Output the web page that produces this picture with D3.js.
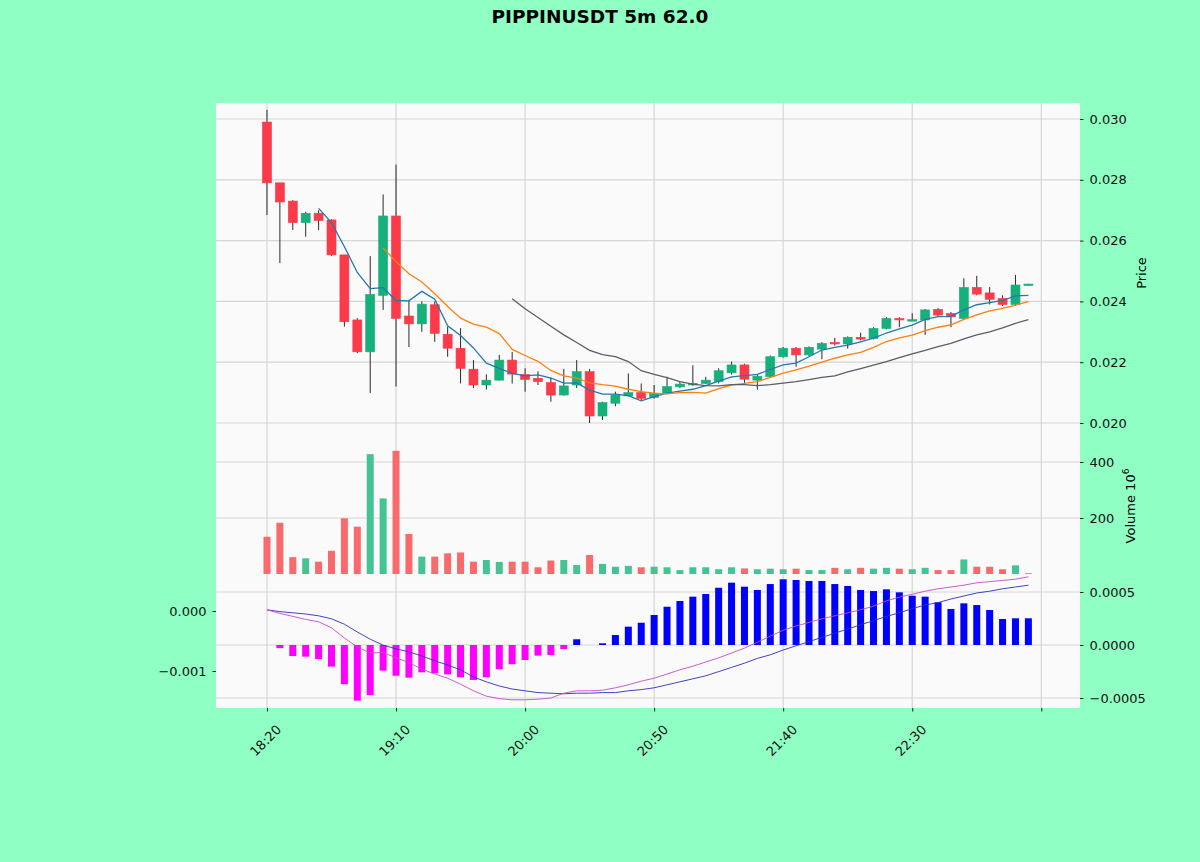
<!DOCTYPE html>
<html>
<head>
<meta charset="utf-8">
<script src="https://cdn.jsdelivr.net/npm/d3@7"></script>
<style>
  body { margin: 0; background: #8fffc4; }
  svg { display: block; font-family: "DejaVu Sans", sans-serif; }
</style>
</head>
<body>
<svg id="chart" width="1200" height="862"></svg>
<script>
// 5m candles, 18:20 onwards
const opens  = [0.02990,0.02790,0.02730,0.02659,0.02690,0.02668,0.02553,0.02339,0.02234,0.02420,
                0.02681,0.02352,0.02326,0.02389,0.02292,0.02246,0.02177,0.02125,0.02141,0.02207,
                0.02160,0.02147,0.02133,0.02092,0.02125,0.02169,0.02023,0.02065,0.02089,0.02100,
                0.02084,0.02098,0.02119,0.02126,0.02130,0.02136,0.02165,0.02191,0.02141,0.02152,
                0.02218,0.02246,0.02224,0.02243,0.02265,0.02260,0.02282,0.02278,0.02311,0.02344,
                0.02339,0.02339,0.02374,0.02360,0.02344,0.02446,0.02428,0.02410,0.02390,0.02455];
const highs  = [0.03030,0.02790,0.02733,0.02695,0.02700,0.02670,0.02553,0.02345,0.02549,0.02752,
                0.02850,0.02405,0.02400,0.02400,0.02317,0.02312,0.02207,0.02160,0.02224,0.02234,
                0.02180,0.02170,0.02150,0.02178,0.02207,0.02178,0.02070,0.02103,0.02163,0.02130,
                0.02125,0.02152,0.02135,0.02190,0.02152,0.02180,0.02202,0.02195,0.02160,0.02222,
                0.02250,0.02250,0.02252,0.02266,0.02280,0.02285,0.02297,0.02315,0.02348,0.02348,
                0.02361,0.02375,0.02378,0.02365,0.02476,0.02484,0.02447,0.02420,0.02487,0.02458];
const lows   = [0.02684,0.02526,0.02635,0.02613,0.02635,0.02550,0.02317,0.02230,0.02099,0.02372,
                0.02120,0.02250,0.02300,0.02267,0.02218,0.02130,0.02115,0.02110,0.02140,0.02130,
                0.02103,0.02125,0.02070,0.02090,0.02115,0.02000,0.02010,0.02055,0.02088,0.02075,
                0.02080,0.02095,0.02115,0.02122,0.02128,0.02130,0.02160,0.02130,0.02110,0.02150,
                0.02215,0.02185,0.02220,0.02210,0.02255,0.02245,0.02272,0.02275,0.02308,0.02315,
                0.02335,0.02290,0.02350,0.02315,0.02340,0.02420,0.02390,0.02385,0.02385,0.02454];
const closes = [0.02790,0.02727,0.02659,0.02690,0.02666,0.02553,0.02333,0.02234,0.02423,0.02681,
                0.02344,0.02326,0.02391,0.02295,0.02246,0.02180,0.02125,0.02141,0.02207,0.02161,
                0.02143,0.02136,0.02092,0.02122,0.02169,0.02023,0.02067,0.02092,0.02100,0.02081,
                0.02097,0.02120,0.02128,0.02130,0.02141,0.02172,0.02191,0.02144,0.02154,0.02218,
                0.02246,0.02224,0.02249,0.02262,0.02262,0.02282,0.02276,0.02311,0.02344,0.02339,
                0.02340,0.02372,0.02355,0.02349,0.02446,0.02424,0.02407,0.02390,0.02454,0.02457];

// volume in 10^6
const volumes = [133,183,60,56,44,83,199,169,428,270,440,143,62,62,74,77,44,50,43,44,
                 44,24,48,50,32,68,36,26,29,24,26,24,14,24,24,17,24,20,17,19,
                 17,19,14,14,22,17,22,19,22,19,17,22,14,14,52,26,26,17,31,3];

const ma5 = [null,null,null,null,0.02706,0.02659,0.02580,0.02495,0.02442,0.02445,
             0.02403,0.02402,0.02433,0.02407,0.02320,0.02288,0.02247,0.02197,0.02180,0.02163,
             0.02155,0.02158,0.02148,0.02131,0.02132,0.02108,0.02095,0.02095,0.02090,0.02073,
             0.02087,0.02098,0.02105,0.02111,0.02123,0.02138,0.02152,0.02156,0.02160,0.02176,
             0.02191,0.02197,0.02218,0.02240,0.02249,0.02256,0.02267,0.02279,0.02296,0.02310,
             0.02322,0.02341,0.02350,0.02351,0.02372,0.02389,0.02396,0.02403,0.02418,0.02420];
const ma10 = [null,null,null,null,null,null,null,null,null,0.02576,
              0.02531,0.02491,0.02464,0.02425,0.02383,0.02345,0.02325,0.02315,0.02294,0.02242,
              0.02222,0.02203,0.02173,0.02155,0.02148,0.02132,0.02126,0.02121,0.02111,0.02103,
              0.02098,0.02096,0.02100,0.02101,0.02098,0.02113,0.02125,0.02130,0.02136,0.02150,
              0.02164,0.02175,0.02187,0.02200,0.02213,0.02224,0.02232,0.02249,0.02268,0.02280,
              0.02289,0.02304,0.02315,0.02323,0.02341,0.02356,0.02369,0.02377,0.02388,0.02399];
const ma20 = [null,null,null,null,null,null,null,null,null,null,
              null,null,null,null,null,null,null,null,null,0.02409,
              0.02376,0.02347,0.02318,0.02290,0.02265,0.02239,0.02225,0.02218,0.02202,0.02172,
              0.02160,0.02149,0.02136,0.02128,0.02123,0.02122,0.02126,0.02126,0.02123,0.02126,
              0.02131,0.02136,0.02143,0.02150,0.02155,0.02168,0.02179,0.02190,0.02202,0.02215,
              0.02227,0.02239,0.02251,0.02262,0.02277,0.02290,0.02300,0.02313,0.02328,0.02340];

const macdLine = [0.00002,-0.00004,-0.00009,-0.00014,-0.00018,-0.00028,-0.00045,-0.00060,-0.00070,-0.00069,
                  -0.00078,-0.00086,-0.00097,-0.00105,-0.00112,-0.00122,-0.00133,-0.00142,-0.00146,-0.00148,
                  -0.00148,-0.00147,-0.00145,-0.00137,-0.00133,-0.00133,-0.00132,-0.00128,-0.00123,-0.00117,
                  -0.00112,-0.00105,-0.00098,-0.00092,-0.00085,-0.00078,-0.00070,-0.00062,-0.00052,-0.00042,
                  -0.00032,-0.00025,-0.00019,-0.00013,-0.00008,-0.00003,0.00002,0.00008,0.00017,0.00023,
                  0.00028,0.00033,0.00037,0.00040,0.00043,0.00047,0.00049,0.00051,0.00053,0.00057];
const signalLine = [0.00002,-0.00001,-0.00003,-0.00005,-0.00008,-0.00013,-0.00022,-0.00035,-0.00047,-0.00057,
                    -0.00063,-0.00068,-0.00075,-0.00083,-0.00090,-0.00098,-0.00110,-0.00118,-0.00125,-0.00130,
                    -0.00133,-0.00136,-0.00137,-0.00138,-0.00137,-0.00137,-0.00136,-0.00136,-0.00133,-0.00131,
                    -0.00128,-0.00123,-0.00118,-0.00113,-0.00108,-0.00101,-0.00094,-0.00087,-0.00079,-0.00073,
                    -0.00065,-0.00058,-0.00051,-0.00044,-0.00037,-0.00030,-0.00023,-0.00016,-0.00009,-0.00003,
                    0.00004,0.00010,0.00014,0.00020,0.00025,0.00030,0.00033,0.00037,0.00040,0.00043];
const histogram = [0,-0.000030,-0.000104,-0.000110,-0.000132,-0.000204,-0.000370,-0.000525,-0.000472,-0.000242,
                   -0.000290,-0.000308,-0.000258,-0.000267,-0.000277,-0.000305,-0.000330,-0.000305,-0.000229,-0.000182,
                   -0.000142,-0.000100,-0.000094,-0.000038,0.000054,0,0.000016,0.000094,0.000173,0.000210,
                   0.000283,0.000361,0.000415,0.000456,0.000481,0.000540,0.000588,0.000550,0.000519,0.000575,
                   0.000620,0.000613,0.000604,0.000604,0.000575,0.000557,0.000519,0.000509,0.000525,0.000497,
                   0.000465,0.000456,0.000403,0.000340,0.000393,0.000377,0.000330,0.000245,0.000252,0.000252];

const tickIdx = [0,10,20,30,40,50,60];
const tickLabels = ["18:20","19:10","20:00","20:50","21:40","22:30",""];
const priceTicks = [0.020,0.022,0.024,0.026,0.028,0.030];
const volTicks = [200,400];
const macdLeftTicks = [0,-0.001];
const macdRightTicks = [0.0005,0,-0.0005];

const svg = d3.select("#chart");
let axLeft = 216, axRight = 1080, axTop = 103, axBottom = 708;
let pBottom = 440, vBottom = 576;

let upCol = "#16b07c", downCol = "#fb3b49";
let upVol = "#45c393", downVol = "#f86a6c";
let gridCol = "#d6d6d6";

let x = d3.scaleLinear().domain([-3.95, 63.0]).range([axLeft, axRight]);
let yP = d3.scaleLinear().domain([0.020, 0.030]).range([423, 119]);
let yV = d3.scaleLinear().domain([0, 400]).range([574, 462]);
let yML = d3.scaleLinear().domain([0, -0.001]).range([611, 671]);
let yMR = d3.scaleLinear().domain([0, 0.0005]).range([645, 592]);

svg.append("text")
  .attr("x", 600).attr("y", 23)
  .attr("text-anchor", "middle")
  .attr("font-size", "18.5px")
  .attr("font-weight", "bold")
  .text("PIPPINUSDT 5m 62.0");

svg.append("rect")
  .attr("x", axLeft).attr("y", axTop)
  .attr("width", axRight - axLeft).attr("height", axBottom - axTop)
  .attr("fill", "#fafafa");

svg.append("clipPath").attr("id", "pc").append("rect")
  .attr("x", axLeft).attr("y", axTop).attr("width", axRight - axLeft).attr("height", pBottom - axTop);
svg.append("clipPath").attr("id", "mc").append("rect")
  .attr("x", axLeft).attr("y", vBottom).attr("width", axRight - axLeft).attr("height", axBottom - vBottom);

// grid
let grid = svg.append("g").attr("stroke", gridCol).attr("stroke-width", 1.2);
grid.selectAll(".vg").data(tickIdx).enter().append("line")
  .attr("x1", d => x(d)).attr("x2", d => x(d))
  .attr("y1", axTop).attr("y2", axBottom);
grid.selectAll(".pg").data(priceTicks).enter().append("line")
  .attr("x1", axLeft).attr("x2", axRight)
  .attr("y1", d => yP(d)).attr("y2", d => yP(d));
grid.selectAll(".vvg").data(volTicks).enter().append("line")
  .attr("x1", axLeft).attr("x2", axRight)
  .attr("y1", d => yV(d)).attr("y2", d => yV(d));
grid.selectAll(".mg").data(macdRightTicks).enter().append("line")
  .attr("x1", axLeft).attr("x2", axRight)
  .attr("y1", d => yMR(d)).attr("y2", d => yMR(d));

// volume
svg.append("g").selectAll("rect").data(volumes).enter().append("rect")
  .attr("x", (d, i) => x(i) - 3.5)
  .attr("width", 7)
  .attr("y", d => yV(d))
  .attr("height", d => yV(0) - yV(d))
  .attr("fill", (d, i) => closes[i] >= opens[i] ? upVol : downVol);

// candles
let candles = svg.append("g").attr("clip-path", "url(#pc)");
candles.selectAll("line").data(closes).enter().append("line")
  .attr("x1", (d, i) => x(i)).attr("x2", (d, i) => x(i))
  .attr("y1", (d, i) => yP(highs[i])).attr("y2", (d, i) => yP(lows[i]))
  .attr("stroke", "#2a2a2a").attr("stroke-width", 1);
candles.selectAll("rect").data(closes).enter().append("rect")
  .attr("x", (d, i) => x(i) - 4.5)
  .attr("width", 9)
  .attr("y", (d, i) => yP(Math.max(d, opens[i])))
  .attr("height", (d, i) => Math.max(1.5, Math.abs(yP(d) - yP(opens[i]))))
  .attr("fill", (d, i) => d >= opens[i] ? upCol : downCol)
  .attr("stroke", (d, i) => d >= opens[i] ? upCol : downCol)
  .attr("stroke-width", 0.6);

// moving averages
let maLine = d3.line().defined(d => d != null).x((d, i) => x(i)).y(d => yP(d));
[[ma5, "#2478ad"], [ma10, "#ff7f0e"], [ma20, "#5a5f66"]].forEach(m => {
  candles.append("path").datum(m[0])
    .attr("d", maLine)
    .attr("fill", "none")
    .attr("stroke", m[1])
    .attr("stroke-width", 1.3);
});

// macd panel
let macdG = svg.append("g").attr("clip-path", "url(#mc)");
macdG.selectAll("rect").data(histogram).enter().append("rect")
  .attr("x", (d, i) => x(i) - 3.5)
  .attr("width", 7)
  .attr("y", d => Math.min(yMR(d), yMR(0)))
  .attr("height", d => Math.abs(yMR(d) - yMR(0)))
  .attr("fill", d => d >= 0 ? "#0000ff" : "#ff00ff");

let mLine = d3.line().x((d, i) => x(i)).y(d => yML(d));
macdG.append("path").datum(signalLine)
  .attr("d", mLine).attr("fill", "none")
  .attr("stroke", "#2c2cc0").attr("stroke-width", 0.9);
macdG.append("path").datum(macdLine)
  .attr("d", mLine).attr("fill", "none")
  .attr("stroke", "#c24cc8").attr("stroke-width", 0.9);

// axes
function styleAxis(g) {
  g.select(".domain").remove();
  g.selectAll(".tick text").attr("font-size", "13px").attr("fill", "#111")
    .attr("font-family", "DejaVu Sans, sans-serif");
  g.selectAll(".tick line").attr("stroke", "#222");
}

svg.append("g")
  .attr("transform", `translate(${axRight},0)`)
  .call(d3.axisRight(yP).tickValues(priceTicks).tickFormat(d3.format(".3f")).tickSize(3.5).tickPadding(6))
  .call(styleAxis);

svg.append("g")
  .attr("transform", `translate(${axRight},0)`)
  .call(d3.axisRight(yV).tickValues(volTicks).tickFormat(d3.format("d")).tickSize(3.5).tickPadding(6))
  .call(styleAxis);

svg.append("g")
  .attr("transform", `translate(${axRight},0)`)
  .call(d3.axisRight(yMR).tickValues(macdRightTicks).tickFormat(d3.format(".4f")).tickSize(3.5).tickPadding(6))
  .call(styleAxis);

svg.append("g")
  .attr("transform", `translate(${axLeft},0)`)
  .call(d3.axisLeft(yML).tickValues(macdLeftTicks).tickFormat(d3.format(".3f")).tickSize(3.5).tickPadding(6))
  .call(styleAxis);

let xAxisG = svg.append("g")
  .attr("transform", `translate(0,${axBottom})`)
  .call(d3.axisBottom(x).tickValues(tickIdx).tickFormat((d, i) => tickLabels[i]).tickSize(3.5).tickPadding(4))
  .call(styleAxis);
xAxisG.selectAll(".tick text")
  .attr("text-anchor", "end")
  .attr("dy", "0.35em")
  .attr("transform", "translate(6,14) rotate(-45)");

// axis titles
svg.append("text")
  .attr("transform", "translate(1146,273) rotate(-90)")
  .attr("text-anchor", "middle")
  .attr("font-size", "13px")
  .text("Price");

let vLab = svg.append("text")
  .attr("transform", "translate(1135,506) rotate(-90)")
  .attr("text-anchor", "middle")
  .attr("font-size", "13px");
vLab.append("tspan").text("Volume  10");
vLab.append("tspan").attr("font-size", "9px").attr("dy", "-6").text("6");
</script>
</body>
</html>
